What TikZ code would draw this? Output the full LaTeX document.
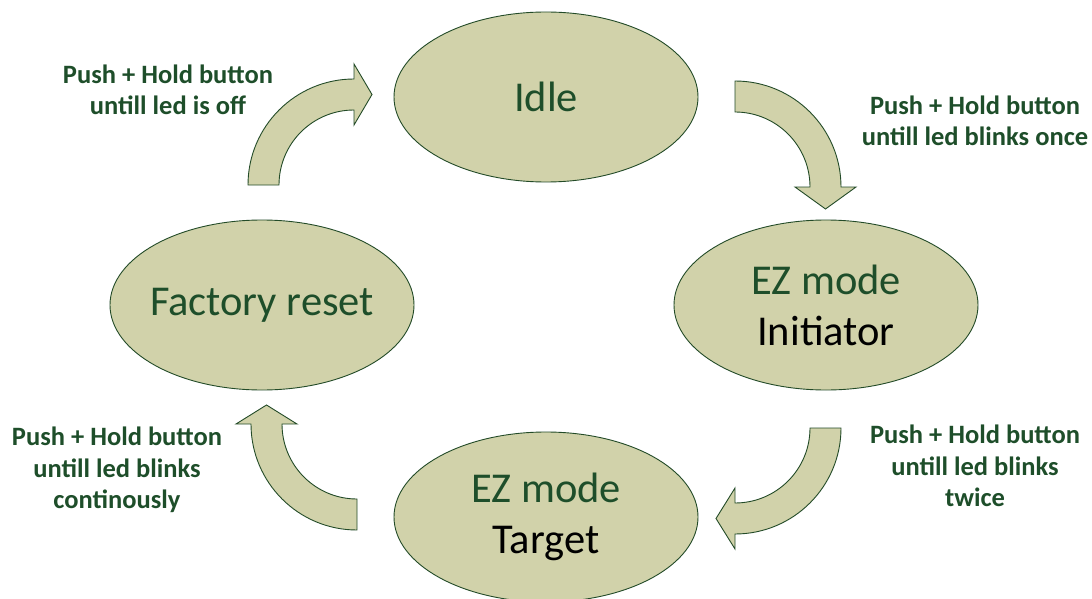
\documentclass[tikz,border=0pt]{standalone}
\usepackage{fontspec}
\setmainfont{Carlito}
\usetikzlibrary{shapes.geometric}
\definecolor{khaki}{RGB}{209,210,170}
\definecolor{edgegreen}{RGB}{35,75,40}
\definecolor{textgreen}{RGB}{30,78,42}
\tikzset{
  modebox/.style={ellipse, draw=edgegreen, line width=0.9pt, fill=khaki,
    minimum width=304pt, minimum height=170pt, inner sep=0pt,
    text=textgreen, align=center, font=\fontsize{42.5}{51}\selectfont},
  hint/.style={text=textgreen, align=center, inner sep=0pt,
    font=\bfseries\fontsize{26.5}{31.5}\selectfont},
  blockarrow/.style={draw=edgegreen, line width=0.9pt, fill=khaki, line join=miter}
}
\begin{document}
\begin{tikzpicture}[x=1pt,y=1pt]
    \useasboundingbox (0,0) rectangle (1092,-599);
    \clip (0,0) rectangle (1092,-599);

    \node (idle) at (546,-97) [modebox] {Idle};
    \node (init) at (826,-305) [modebox] {EZ mode\\\textcolor{black}{Initiator}};
    \node (target) at (546,-517) [modebox] {EZ mode\\\textcolor{black}{Target}};
    \node (reset) at (262,-305) [modebox, inner xsep=-14pt] {Factory reset};

    % block arrows, turning clockwise
    \draw [blockarrow] (279,-185) -- (248,-185) arc[start angle=180, end angle=90, radius=106pt]
        -- (354,-64) -- (372,-94.5) -- (354,-125) -- (354,-110)
        arc[start angle=90, end angle=180, radius=75pt] -- cycle;
    \draw [blockarrow] (735,-112) -- (735,-81) arc[start angle=90, end angle=0, radius=106pt]
        -- (856,-187) -- (825.5,-209) -- (795,-187) -- (810,-187)
        arc[start angle=0, end angle=90, radius=75pt] -- cycle;
    \draw [blockarrow] (810,-428) -- (841,-428) arc[start angle=0, end angle=-90, radius=106pt]
        -- (735,-549) -- (716,-518.5) -- (735,-488) -- (735,-503)
        arc[start angle=-90, end angle=0, radius=75pt] -- cycle;
    \draw [blockarrow] (357,-499) -- (357,-530) arc[start angle=270, end angle=180, radius=106pt]
        -- (236,-424) -- (266.5,-405) -- (297,-424) -- (282,-424)
        arc[start angle=180, end angle=270, radius=75pt] -- cycle;

    \node (offtxt) at (168,-90) [hint] {Push + Hold button\\untill led is off};
    \node (oncetxt) at (975,-121) [hint] {Push + Hold button\\untill led blinks once};
    \node (twicetxt) at (975,-466) [hint] {Push + Hold button\\untill led blinks\\twice};
    \node (conttxt) at (117,-470) [hint] {Push + Hold button\\untill led blinks\\continously};
\end{tikzpicture}
\end{document}
